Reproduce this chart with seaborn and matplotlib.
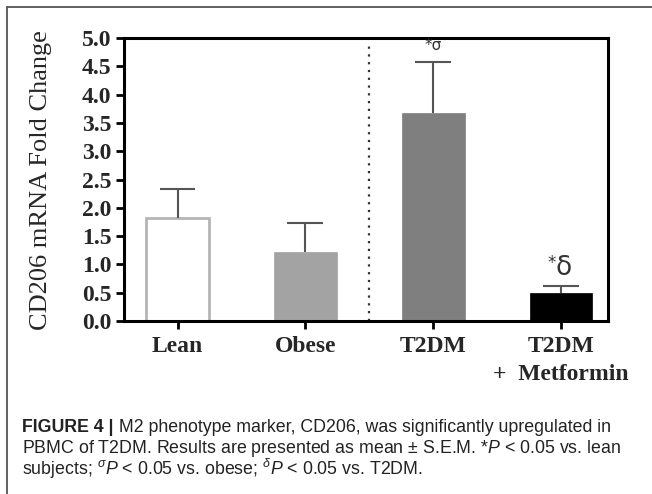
import numpy as np
import pandas as pd
import matplotlib
matplotlib.use("Agg")
import matplotlib.pyplot as plt
from matplotlib.lines import Line2D
import seaborn as sns

# data
groups = ["Lean", "Obese", "T2DM", "T2DM\n+  Metformin"]
mean_fold = [1.82, 1.22, 3.67, 0.49]
sem_fold = [0.51, 0.51, 0.90, 0.13]
bar_colors = ["#ffffff", "#a3a3a3", "#7f7f7f", "#000000"]
sig_labels = ["", "", "*σ", "δ"]
yticks = [0.0, 0.5, 1.0, 1.5, 2.0, 2.5, 3.0, 3.5, 4.0, 4.5, 5.0]

sns.set_style("ticks")
plt.rcParams['font.family'] = ['Liberation Serif', 'DejaVu Serif']
plt.rcParams['mathtext.fontset'] = 'custom'
plt.rcParams['mathtext.rm'] = 'Liberation Sans'
plt.rcParams['mathtext.it'] = 'Liberation Sans:italic'

df = pd.DataFrame({"group": groups, "mean": mean_fold, "sem": sem_fold})

fig = plt.figure(figsize=(6.52, 4.94), dpi=100)
ax = fig.add_axes([0.190, 0.350, 0.743, 0.573])

sns.barplot(data=df, x="group", y="mean", hue="group", palette=bar_colors,
            width=0.49, legend=False, ax=ax, zorder=2)
for i, p in enumerate(ax.patches):
    if i == 0:
        p.set_edgecolor("#b5b5b5")
        p.set_linewidth(2)
    else:
        p.set_edgecolor(bar_colors[i])
        p.set_linewidth(0.5)

# upper-only S.E.M. bars
xpos = np.arange(len(groups))
tops = np.array(mean_fold) + np.array(sem_fold)
ax.vlines(xpos, mean_fold, tops, color="#555555", lw=1.5, zorder=3)
ax.hlines(tops, xpos - 0.14, xpos + 0.14, color="#555555", lw=1.5, zorder=3)

# significance marks
ax.text(2, 4.86, sig_labels[2], ha="center", va="center", fontsize=11,
        family=["DejaVu Sans"], color="#333333")
dl = ax.text(3.02, 0.93, sig_labels[3], ha="center", va="center", fontsize=19,
             family=["DejaVu Sans"], color="#333333")
ax.annotate("*", xy=(0, 1), xycoords=dl, ha="right", va="top", fontsize=12,
            family=["DejaVu Sans"], color="#333333",
            xytext=(0, 1), textcoords="offset points")

# dotted separator
ax.vlines(1.5, 0, 4.88, color="#333333", lw=1.6, linestyles=(0, (1, 2.5)), zorder=1)

ax.set_xlim(-0.42, 3.37)
ax.set_ylim(0, 5.0)
ax.set_yticks(yticks)
ax.set_yticklabels([f"{v:.1f}" for v in yticks], fontweight="bold", fontsize=17)
ax.set_xticks(xpos)
ax.set_xticklabels(groups, fontweight="bold", fontsize=17)
for t in ax.get_xticklabels():
    t.set_linespacing(1.4)
ax.tick_params(axis="both", direction="out", length=6, width=2, color="black")
ax.tick_params(axis="x", pad=5)
ax.tick_params(axis="y", pad=3)
ax.set_xlabel("")
ax.set_ylabel("CD206 mRNA Fold Change", fontsize=19)
ax.yaxis.set_label_coords(-0.148, 0.5)
for s in ax.spines.values():
    s.set_visible(True)
    s.set_linewidth(2.2)
    s.set_color("black")

# outer frame (top and left only)
fig.add_artist(Line2D([7 / 652, 1.0], [1 - 7 / 494, 1 - 7 / 494],
                      transform=fig.transFigure, color="#555555", lw=1.3))
fig.add_artist(Line2D([7 / 652, 7 / 652], [0, 1 - 7 / 494],
                      transform=fig.transFigure, color="#555555", lw=1.3))

# caption
cap_font = ['Liberation Sans', 'DejaVu Sans']
cap_size = 12.8
y1 = 1 - 427 / 494
bold = fig.text(22 / 652, y1, "FIGURE 4 |", fontsize=cap_size, fontweight="bold",
                family=cap_font, va="center", color="#222222")
ax.annotate(" M2 phenotype marker, CD206, was significantly upregulated in",
            xy=(1, 0.5), xycoords=bold, va="center", ha="left", fontsize=cap_size,
            family=cap_font, color="#222222", annotation_clip=False)
fig.text(22 / 652, 1 - 448 / 494,
         r"PBMC of T2DM. Results are presented as mean ± S.E.M. *$P$ < 0.05 vs. lean",
         fontsize=cap_size, family=cap_font, va="center", color="#222222")
fig.text(22 / 652, 1 - 469 / 494,
         r"subjects; $^{\sigma}P$ < 0.05 vs. obese; $^{\delta}P$ < 0.05 vs. T2DM.",
         fontsize=cap_size, family=cap_font, va="center", color="#222222")

fig.savefig("out.png", dpi=100, facecolor="white")
